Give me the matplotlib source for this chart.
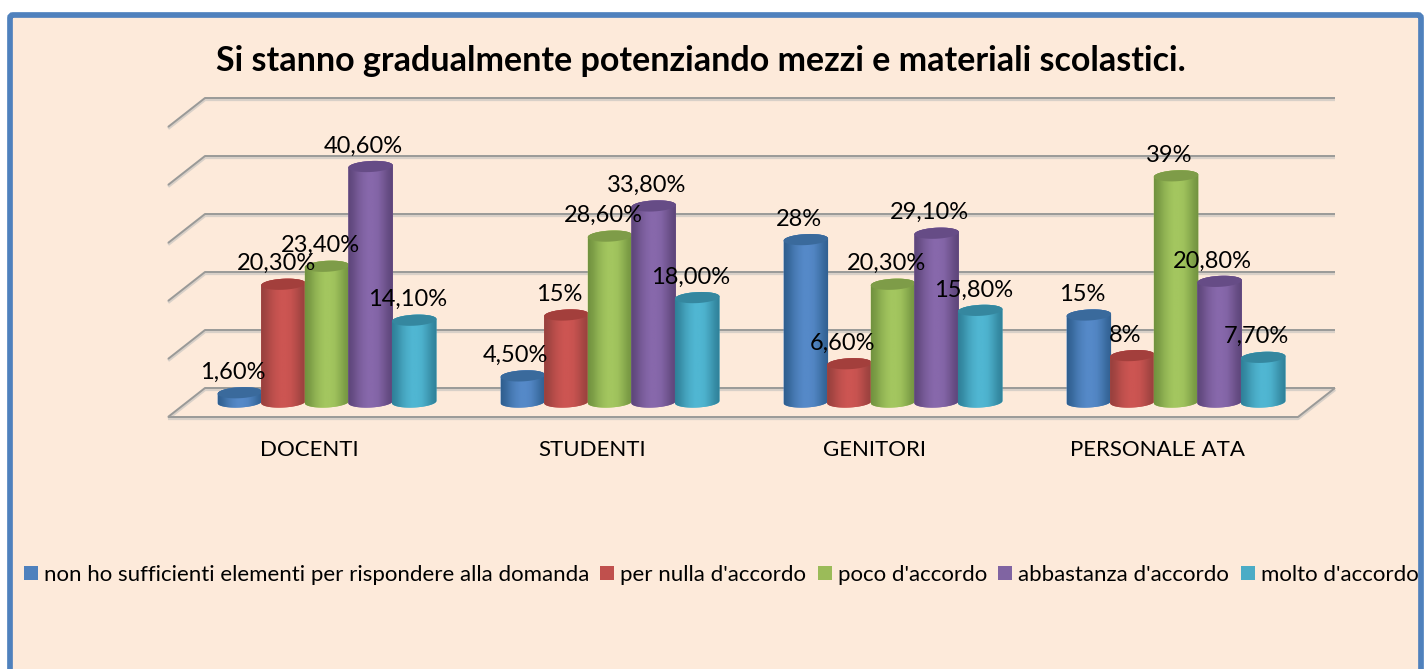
import numpy as np
import matplotlib
matplotlib.use("Agg")
import matplotlib.pyplot as plt
from matplotlib.patches import FancyBboxPatch, Polygon
from matplotlib.lines import Line2D

plt.rcParams['font.family'] = ['Lato', 'DejaVu Sans']

# --- Data ---
title = "Si stanno gradualmente potenziando mezzi e materiali scolastici."
categories = ["DOCENTI", "STUDENTI", "GENITORI", "PERSONALE ATA"]
series_names = ["non ho sufficienti elementi per rispondere alla domanda",
                "per nulla d'accordo", "poco d'accordo",
                "abbastanza d'accordo", "molto d'accordo"]
non_ho = [1.6, 4.5, 28, 15]
per_nulla = [20.3, 15, 6.6, 8]
poco = [23.4, 28.6, 20.3, 39]
abbastanza = [40.6, 33.8, 29.1, 20.8]
molto = [14.1, 18.0, 15.8, 7.7]
non_ho_labels = ["1,60%", "4,50%", "28%", "15%"]
per_nulla_labels = ["20,30%", "15%", "6,60%", "8%"]
poco_labels = ["23,40%", "28,60%", "20,30%", "39%"]
abbastanza_labels = ["40,60%", "33,80%", "29,10%", "20,80%"]
molto_labels = ["14,10%", "18,00%", "15,80%", "7,70%"]
grid_values = [0, 10, 20, 30, 40, 50]

all_values = [non_ho, per_nulla, poco, abbastanza, molto]
all_labels = [non_ho_labels, per_nulla_labels, poco_labels, abbastanza_labels, molto_labels]

# base, dark edge, cap
colors = ["#5589C8", "#CC5552", "#A3C65F", "#8768AB", "#50B6D2"]
edges = ["#2F5F8F", "#97403D", "#71923F", "#5D4579", "#2F8098"]
caps = ["#3A6A9C", "#A33F3C", "#7E9C48", "#664C86", "#35879F"]
legend_colors = ["#4F81BD", "#C0504D", "#9BBB59", "#8064A2", "#4BACC6"]

BG = "#FDEADA"
BORDER = "#4F81BD"
GRID = "#9A9A98"

# --- Scales: one x unit is a group step, one y unit is one percent ---
W, H = 1424, 669
PX_X = 283.0
PX_Y = 5.8
X0_PX = 327.0
Y0_PX = 402.0
BAR_STEP = 43.6 / PX_X
BAR_W = 44.5 / PX_X
DEPTH_X = 37 / PX_X
DEPTH_Y = 29 / PX_Y
BACK_Y = 14 / PX_Y      # back wall floor is above the bar base line
ELL_B = 5.5 / PX_Y
TILT = 0.05
LABEL_SHIFT = -18 / PX_X  # category labels sit left of the group centre

fig = plt.figure(figsize=(W / 100, H / 100), dpi=100, facecolor="white")
ax = fig.add_axes([0, 0, 1, 1])
xlim = (-X0_PX / PX_X, (W - X0_PX) / PX_X)
ylim = ((Y0_PX - H) / PX_Y, Y0_PX / PX_Y)
ax.axis("off")

# panel with thick border (runs off the bottom and right edges)
panel = FancyBboxPatch((10, -30), W - 3 - 10, H + 30 - 15,
                       boxstyle="round,pad=0,rounding_size=3",
                       transform=None, facecolor=BG, edgecolor=BORDER,
                       linewidth=4.1, zorder=-5)
fig.patches.append(panel)

# walls and floor
x_back_l = (205 - X0_PX) / PX_X
x_back_r = (1335 - X0_PX) / PX_X
x_front_l = x_back_l - DEPTH_X
x_front_r = (1298 - X0_PX) / PX_X
for v in grid_values:
    yb = v + BACK_Y
    yf = yb - DEPTH_Y
    for off, col, lw in [(-0.25, "#D8D0C8", 2.4), (0, GRID, 1.4)]:
        ax.plot([x_front_l, x_back_l, x_back_r], [yf + off, yb + off, yb + off],
                color=col, lw=lw, zorder=1, solid_capstyle="butt")
yb = BACK_Y
yf = BACK_Y - DEPTH_Y
for off, col, lw in [(-0.25, "#D8D0C8", 2.4), (0, GRID, 1.4)]:
    ax.plot([x_front_l, x_front_r, x_back_r], [yf + off, yf + off, yb + off],
            color=col, lw=lw, zorder=1, solid_capstyle="butt")


def ellipse_pts(xc, yc, start, stop, n=40):
    t = np.linspace(start, stop, n)
    ex = BAR_W / 2 * np.cos(t)
    ey = ELL_B * np.sin(t) + TILT * (BAR_W / 2 * np.cos(t)) * PX_X / PX_Y
    return np.column_stack([xc + ex, yc + ey])


# horizontal shading across a cylinder
shade = np.array([0.0, 0.25, 0.6, 0.85, 1.0, 1.0, 0.9, 0.6, 0.25, 0.0])
shade_u = np.linspace(0, 1, len(shade))
u = np.linspace(0, 1, 64)
s = np.interp(u, shade_u, shade)

for i, (vals, strs) in enumerate(zip(all_values, all_labels)):
    xs = np.arange(len(categories)) + (i - 2) * BAR_STEP
    base = np.array(matplotlib.colors.to_rgb(colors[i]))
    dark = np.array(matplotlib.colors.to_rgb(edges[i]))
    grad = (dark[None, None, :] * (1 - s)[None, :, None] + base[None, None, :] * s[None, :, None])
    for x, v, txt in zip(xs, vals, strs):
        z = 3 + x * 0.001 + i * 0.1
        # bar body
        body = np.vstack([ellipse_pts(x, 0, np.pi, 2 * np.pi),
                          ellipse_pts(x, v, 0, np.pi)])
        outline = Polygon(body, closed=True, facecolor=colors[i], edgecolor="none", zorder=z)
        ax.add_patch(outline)
        im = ax.imshow(grad, extent=(x - BAR_W / 2, x + BAR_W / 2, -ELL_B * 2, v + ELL_B * 2),
                       aspect="auto", zorder=z + 0.01, interpolation="bilinear")
        im.set_clip_path(outline)
        # cap
        cap = ellipse_pts(x, v, 0, 2 * np.pi)
        ax.add_patch(Polygon(cap, closed=True, facecolor=caps[i], edgecolor="none", zorder=z + 0.02))
        ax.annotate(txt, (x, v), xytext=(-7 / 1.389, 20.5 / 1.389), textcoords="offset points",
                    ha="center", va="center", fontsize=17, color="black", zorder=20)

ax.set_xlim(xlim)
ax.set_ylim(ylim)

# category labels
for j, c in enumerate(categories):
    ax.text(j + LABEL_SHIFT, (Y0_PX - 450.5) / PX_Y, c, ha="center", va="center",
            fontsize=16, color="black", zorder=20)

fig.text(701 / W, 1 - 61 / H, title, ha="center", va="center", fontsize=24.5,
         fontweight="bold", color="black")

handles = [Line2D([], [], linestyle="none", marker="s", markersize=9.8, markeredgewidth=0, color=c)
           for c in legend_colors]
fig.legend(handles, series_names, loc="center", bbox_to_anchor=(721 / W, 1 - 575 / H),
           ncol=5, frameon=False, fontsize=16, handlelength=0.63, handletextpad=0.27,
           columnspacing=0.51, borderpad=0, borderaxespad=0)

fig.savefig("out.png", dpi=100, facecolor="white")
